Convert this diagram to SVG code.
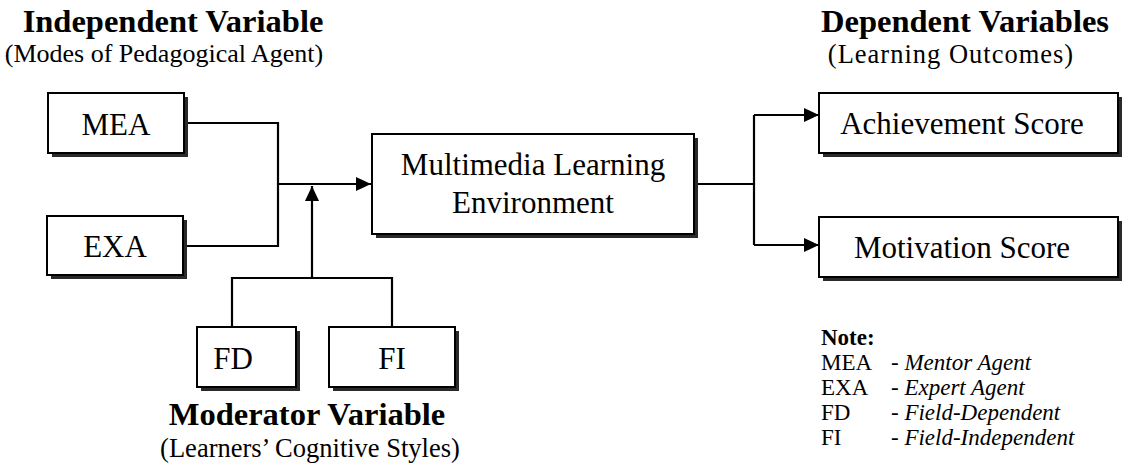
<svg xmlns="http://www.w3.org/2000/svg" width="1128" height="473" viewBox="0 0 1128 473">
<style>
.box{fill:#fff;stroke:#000;stroke-width:2}
.sh{fill:#2a2a2a}
.t{font-family:"Liberation Serif","Times New Roman",serif;font-size:31px;fill:#000;text-anchor:middle}
.h{font-family:"Liberation Serif","Times New Roman",serif;font-size:32.5px;font-weight:bold;fill:#000;text-anchor:middle}
.s{font-family:"Liberation Serif","Times New Roman",serif;font-size:26px;fill:#000;text-anchor:middle}
.n{font-family:"Liberation Serif","Times New Roman",serif;font-size:23px;fill:#000}
.ln{fill:none;stroke:#000;stroke-width:2.2}
</style>
<defs>
<marker id="ah" markerUnits="userSpaceOnUse" markerWidth="16" markerHeight="14" refX="15" refY="7" orient="auto">
<path d="M0,0 L15,7 L0,14 Z" fill="#000"/>
</marker>
</defs>
<rect width="1128" height="473" fill="#fff"/>

<text class="h" x="173" y="32">Independent Variable</text>
<text class="s" x="164" y="62">(Modes of Pedagogical Agent)</text>
<text class="h" x="965" y="32">Dependent Variables</text>
<text class="s" x="951" y="63" style="font-size:26.5px;letter-spacing:1px">(Learning Outcomes)</text>
<text class="h" x="307" y="425">Moderator Variable</text>
<text class="s" x="310" y="457" style="font-size:26.5px">(Learners’ Cognitive Styles)</text>

<g id="connectors">
<path class="ln" d="M184,123 H278 V246 H183"/>
<path class="ln" d="M278,184 H371" marker-end="url(#ah)"/>
<path class="ln" d="M232,327 V278 H392 V327"/>
<path class="ln" d="M312,278 V186" marker-end="url(#ah)"/>
<path class="ln" d="M694,184 H754"/>
<path class="ln" d="M754,115 V245"/>
<path class="ln" d="M754,115 H819" marker-end="url(#ah)"/>
<path class="ln" d="M754,245 H819" marker-end="url(#ah)"/>
</g>

<g id="MEA">
<rect class="sh" x="52" y="97" width="136" height="60"/>
<rect class="box" x="48" y="93" width="136" height="60"/>
<text class="t" x="116" y="135">MEA</text>
</g>
<g id="EXA">
<rect class="sh" x="51" y="220" width="136" height="59"/>
<rect class="box" x="47" y="216" width="136" height="59"/>
<text class="t" x="115" y="257">EXA</text>
</g>
<g id="FD">
<rect class="sh" x="201" y="331" width="99" height="60"/>
<rect class="box" x="197" y="327" width="99" height="60"/>
<text class="t" x="233" y="369">FD</text>
</g>
<g id="FI">
<rect class="sh" x="333" y="331" width="126" height="60"/>
<rect class="box" x="329" y="327" width="126" height="60"/>
<text class="t" x="392" y="369">FI</text>
</g>
<g id="MLE">
<rect class="sh" x="376" y="138" width="322" height="100"/>
<rect class="box" x="372" y="134" width="322" height="100"/>
<text class="t" x="533" y="175">Multimedia Learning</text>
<text class="t" x="533" y="213">Environment</text>
</g>
<g id="Achievement">
<rect class="sh" x="823" y="97" width="299" height="60"/>
<rect class="box" x="819" y="93" width="299" height="60"/>
<text class="t" x="962" y="134">Achievement Score</text>
</g>
<g id="Motivation">
<rect class="sh" x="823" y="221" width="299" height="60"/>
<rect class="box" x="819" y="217" width="299" height="60"/>
<text class="t" x="962" y="258">Motivation Score</text>
</g>

<g id="note">
<text class="n" x="821" y="345" font-weight="bold">Note:</text>
<text class="n" x="821" y="370">MEA</text><text class="n" x="891" y="370">- <tspan font-style="italic">Mentor Agent</tspan></text>
<text class="n" x="821" y="395">EXA</text><text class="n" x="891" y="395">- <tspan font-style="italic">Expert Agent</tspan></text>
<text class="n" x="821" y="420">FD</text><text class="n" x="891" y="420">- <tspan font-style="italic">Field-Dependent</tspan></text>
<text class="n" x="821" y="445">FI</text><text class="n" x="891" y="445">- <tspan font-style="italic">Field-Independent</tspan></text>
</g>
</svg>
